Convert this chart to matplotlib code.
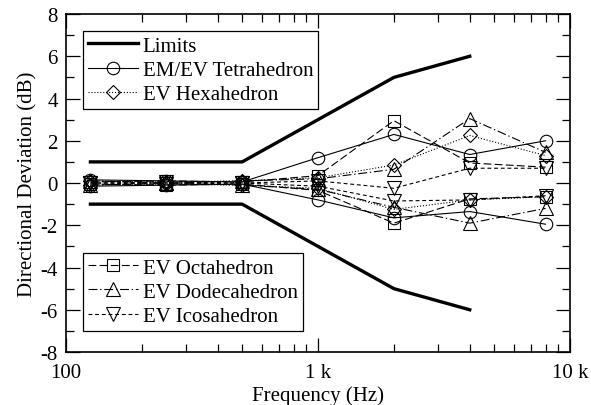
import matplotlib.pyplot as plt
from matplotlib.ticker import FixedLocator, FixedFormatter, MultipleLocator

plt.rcParams['font.family'] = ['Liberation Serif', 'DejaVu Serif']
plt.rcParams['font.size'] = 15
plt.rcParams['axes.unicode_minus'] = False

freqs = [125, 250, 500, 1000, 2000, 4000, 8000]
limit_freqs = [125, 250, 500, 1000, 2000, 4000]
limit_upper = [1, 1, 1, 3, 5, 6]
limit_lower = [-1, -1, -1, -3, -5, -6]

tetra_max = [0.15, 0.1, 0.05, 1.2, 2.3, 1.35, 2.0]
tetra_min = [-0.15, -0.1, -0.05, -0.8, -1.65, -1.35, -1.95]
hexa_max = [0.1, 0.05, 0.1, 0.25, 0.85, 2.25, 1.3]
hexa_min = [-0.1, -0.05, -0.1, -0.25, -1.25, -0.8, -0.65]
octa_max = [0.05, 0.1, 0.05, 0.35, 2.95, 0.95, 0.75]
octa_min = [-0.05, -0.1, -0.05, -0.35, -1.9, -0.75, -0.65]
dodeca_max = [0.1, 0.0, 0.1, 0.2, 0.65, 3.05, 1.45]
dodeca_min = [-0.1, 0.0, -0.1, -0.3, -1.15, -1.9, -1.2]
icosa_max = [0.0, 0.05, 0.0, 0.1, -0.25, 0.7, 0.7]
icosa_min = [0.0, -0.05, 0.0, -0.15, -0.85, -0.8, -0.6]

fig = plt.figure(figsize=(5.91, 4.06), dpi=100)
ax = fig.add_axes([0.1117, 0.1305, 0.8528, 0.8325])

lim, = ax.plot(limit_freqs, limit_upper, color='black', lw=2.4)
ax.plot(limit_freqs, limit_lower, color='black', lw=2.4)

mk = dict(color='black', lw=0.8, mfc='none', mec='black', mew=0.8)
series = [
    ('EM/EV Tetrahedron', tetra_max, tetra_min, 'o', 9, dict(ls='-')),
    ('EV Hexahedron', hexa_max, hexa_min, 'D', 7.5, dict(ls=':')),
    ('EV Octahedron', octa_max, octa_min, 's', 9, dict(dashes=(7, 3))),
    ('EV Dodecahedron', dodeca_max, dodeca_min, '^', 10, dict(dashes=(8, 2.5, 1.2, 2.5))),
    ('EV Icosahedron', icosa_max, icosa_min, 'v', 10, dict(dashes=(3.5, 2.5))),
]
handles = {}
for name, up, lo, m, ms, st in series:
    h, = ax.plot(freqs, up, marker=m, ms=ms, **mk, **st)
    ax.plot(freqs, lo, marker=m, ms=ms, **mk, **st)
    handles[name] = h

ax.set_xscale('log')
ax.set_xlim(100, 10000)
ax.set_ylim(-8, 8)
ax.xaxis.set_major_locator(FixedLocator([100, 1000, 10000]))
ax.xaxis.set_major_formatter(FixedFormatter(['100', '1 k', '10 k']))
ax.yaxis.set_major_locator(MultipleLocator(2))
ax.yaxis.set_minor_locator(MultipleLocator(1))
ax.tick_params(which='both', direction='in', top=True, right=True, width=0.9)
ax.tick_params(which='major', length=10, pad=6)
ax.tick_params(which='minor', length=6)
ax.tick_params(axis='x', which='major', pad=8)
for s in ax.spines.values():
    s.set_linewidth(1.2)

ax.set_xlabel('Frequency (Hz)', labelpad=2)
ax.set_ylabel('Directional Deviation (dB)', labelpad=2)

leg_kw = dict(frameon=True, fancybox=False, edgecolor='black', framealpha=1,
              handlelength=2.4, handletextpad=0.2, labelspacing=0.22,
              borderpad=0.25, borderaxespad=0, fontsize=15)
leg1 = ax.legend([lim, handles['EM/EV Tetrahedron'], handles['EV Hexahedron']],
                 ['Limits', 'EM/EV Tetrahedron', 'EV Hexahedron'],
                 loc='upper left', bbox_to_anchor=(0.034, 0.95), **leg_kw)
leg1.get_frame().set_linewidth(0.9)
ax.add_artist(leg1)
leg2 = ax.legend([handles['EV Octahedron'], handles['EV Dodecahedron'], handles['EV Icosahedron']],
                 ['EV Octahedron', 'EV Dodecahedron', 'EV Icosahedron'],
                 loc='lower left', bbox_to_anchor=(0.034, 0.062), **leg_kw)
leg2.get_frame().set_linewidth(0.9)

fig.savefig('out.png', dpi=100)
